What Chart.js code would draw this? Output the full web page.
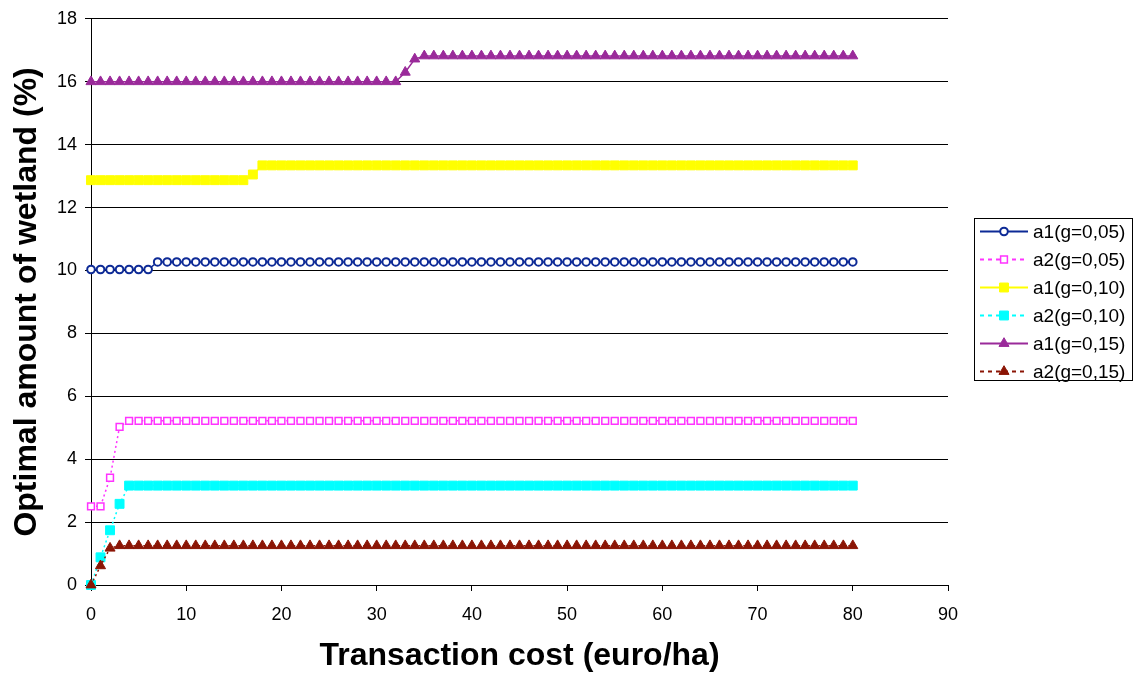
<!DOCTYPE html>
<html>
<head>
<meta charset="utf-8">
<title>Optimal amount of wetland</title>
<script src="https://cdn.jsdelivr.net/npm/chart.js"></script>
<style>
  html, body { margin: 0; padding: 0; background: #fff; }
  #chart { display: block; }
</style>
</head>
<body>
<canvas id="chart" width="1136" height="677"></canvas>
<script>
// transaction cost (euro/ha)
const costs = [
  0, 1, 2, 3, 4, 5, 6, 7, 8, 9,
  10, 11, 12, 13, 14, 15, 16, 17, 18, 19,
  20, 21, 22, 23, 24, 25, 26, 27, 28, 29,
  30, 31, 32, 33, 34, 35, 36, 37, 38, 39,
  40, 41, 42, 43, 44, 45, 46, 47, 48, 49,
  50, 51, 52, 53, 54, 55, 56, 57, 58, 59,
  60, 61, 62, 63, 64, 65, 66, 67, 68, 69,
  70, 71, 72, 73, 74, 75, 76, 77, 78, 79,
  80
];

const seriesNames = ['a1(g=0,05)', 'a2(g=0,05)', 'a1(g=0,10)', 'a2(g=0,10)', 'a1(g=0,15)', 'a2(g=0,15)'];

const a1_g005 = [
  10.03, 10.03, 10.03, 10.03, 10.03, 10.03, 10.03, 10.27, 10.27, 10.27,
  10.27, 10.27, 10.27, 10.27, 10.27, 10.27, 10.27, 10.27, 10.27, 10.27,
  10.27, 10.27, 10.27, 10.27, 10.27, 10.27, 10.27, 10.27, 10.27, 10.27,
  10.27, 10.27, 10.27, 10.27, 10.27, 10.27, 10.27, 10.27, 10.27, 10.27,
  10.27, 10.27, 10.27, 10.27, 10.27, 10.27, 10.27, 10.27, 10.27, 10.27,
  10.27, 10.27, 10.27, 10.27, 10.27, 10.27, 10.27, 10.27, 10.27, 10.27,
  10.27, 10.27, 10.27, 10.27, 10.27, 10.27, 10.27, 10.27, 10.27, 10.27,
  10.27, 10.27, 10.27, 10.27, 10.27, 10.27, 10.27, 10.27, 10.27, 10.27,
  10.27
];

const a2_g005 = [
  2.5, 2.5, 3.41, 5.03, 5.22, 5.22, 5.22, 5.22, 5.22, 5.22,
  5.22, 5.22, 5.22, 5.22, 5.22, 5.22, 5.22, 5.22, 5.22, 5.22,
  5.22, 5.22, 5.22, 5.22, 5.22, 5.22, 5.22, 5.22, 5.22, 5.22,
  5.22, 5.22, 5.22, 5.22, 5.22, 5.22, 5.22, 5.22, 5.22, 5.22,
  5.22, 5.22, 5.22, 5.22, 5.22, 5.22, 5.22, 5.22, 5.22, 5.22,
  5.22, 5.22, 5.22, 5.22, 5.22, 5.22, 5.22, 5.22, 5.22, 5.22,
  5.22, 5.22, 5.22, 5.22, 5.22, 5.22, 5.22, 5.22, 5.22, 5.22,
  5.22, 5.22, 5.22, 5.22, 5.22, 5.22, 5.22, 5.22, 5.22, 5.22,
  5.22
];

const a1_g010 = [
  12.87, 12.87, 12.87, 12.87, 12.87, 12.87, 12.87, 12.87, 12.87, 12.87,
  12.87, 12.87, 12.87, 12.87, 12.87, 12.87, 12.87, 13.05, 13.34, 13.34,
  13.34, 13.34, 13.34, 13.34, 13.34, 13.34, 13.34, 13.34, 13.34, 13.34,
  13.34, 13.34, 13.34, 13.34, 13.34, 13.34, 13.34, 13.34, 13.34, 13.34,
  13.34, 13.34, 13.34, 13.34, 13.34, 13.34, 13.34, 13.34, 13.34, 13.34,
  13.34, 13.34, 13.34, 13.34, 13.34, 13.34, 13.34, 13.34, 13.34, 13.34,
  13.34, 13.34, 13.34, 13.34, 13.34, 13.34, 13.34, 13.34, 13.34, 13.34,
  13.34, 13.34, 13.34, 13.34, 13.34, 13.34, 13.34, 13.34, 13.34, 13.34,
  13.34
];

const a2_g010 = [
  0, 0.88, 1.74, 2.58, 3.16, 3.16, 3.16, 3.16, 3.16, 3.16,
  3.16, 3.16, 3.16, 3.16, 3.16, 3.16, 3.16, 3.16, 3.16, 3.16,
  3.16, 3.16, 3.16, 3.16, 3.16, 3.16, 3.16, 3.16, 3.16, 3.16,
  3.16, 3.16, 3.16, 3.16, 3.16, 3.16, 3.16, 3.16, 3.16, 3.16,
  3.16, 3.16, 3.16, 3.16, 3.16, 3.16, 3.16, 3.16, 3.16, 3.16,
  3.16, 3.16, 3.16, 3.16, 3.16, 3.16, 3.16, 3.16, 3.16, 3.16,
  3.16, 3.16, 3.16, 3.16, 3.16, 3.16, 3.16, 3.16, 3.16, 3.16,
  3.16, 3.16, 3.16, 3.16, 3.16, 3.16, 3.16, 3.16, 3.16, 3.16,
  3.16
];

const a1_g015 = [
  16, 16, 16, 16, 16, 16, 16, 16, 16, 16,
  16, 16, 16, 16, 16, 16, 16, 16, 16, 16,
  16, 16, 16, 16, 16, 16, 16, 16, 16, 16,
  16, 16, 16, 16.3, 16.72, 16.82, 16.82, 16.82, 16.82, 16.82,
  16.82, 16.82, 16.82, 16.82, 16.82, 16.82, 16.82, 16.82, 16.82, 16.82,
  16.82, 16.82, 16.82, 16.82, 16.82, 16.82, 16.82, 16.82, 16.82, 16.82,
  16.82, 16.82, 16.82, 16.82, 16.82, 16.82, 16.82, 16.82, 16.82, 16.82,
  16.82, 16.82, 16.82, 16.82, 16.82, 16.82, 16.82, 16.82, 16.82, 16.82,
  16.82
];

const a2_g015 = [
  0, 0.61, 1.17, 1.25, 1.25, 1.25, 1.25, 1.25, 1.25, 1.25,
  1.25, 1.25, 1.25, 1.25, 1.25, 1.25, 1.25, 1.25, 1.25, 1.25,
  1.25, 1.25, 1.25, 1.25, 1.25, 1.25, 1.25, 1.25, 1.25, 1.25,
  1.25, 1.25, 1.25, 1.25, 1.25, 1.25, 1.25, 1.25, 1.25, 1.25,
  1.25, 1.25, 1.25, 1.25, 1.25, 1.25, 1.25, 1.25, 1.25, 1.25,
  1.25, 1.25, 1.25, 1.25, 1.25, 1.25, 1.25, 1.25, 1.25, 1.25,
  1.25, 1.25, 1.25, 1.25, 1.25, 1.25, 1.25, 1.25, 1.25, 1.25,
  1.25, 1.25, 1.25, 1.25, 1.25, 1.25, 1.25, 1.25, 1.25, 1.25,
  1.25
];

const xTicks = [0, 10, 20, 30, 40, 50, 60, 70, 80, 90];
const yTicks = [0, 2, 4, 6, 8, 10, 12, 14, 16, 18];

const FONT = '"Liberation Sans", Arial, Helvetica, sans-serif';
Chart.defaults.font.family = FONT;
Chart.defaults.color = '#000';

function pts(values) {
  return values.map((v, i) => ({ x: costs[i], y: v }));
}

function series(idx, values, color, style) {
  return Object.assign({
    label: seriesNames[idx],
    data: pts(values),
    borderColor: color,
    pointBorderColor: color,
    borderWidth: 1.5,
    pointBorderWidth: 1,
    pointHoverRadius: 0,
    tension: 0,
    fill: false,
    clip: false,
    order: 10 - idx
  }, style);
}

const datasets = [
  series(0, a1_g005, '#0d2a96', { pointStyle: 'circle', pointRadius: 3.8, pointBorderWidth: 2, pointBackgroundColor: '#fff' }),
  series(1, a2_g005, '#ff33ff', { pointStyle: 'rect', pointRadius: 4.8, pointBorderWidth: 1.5, pointBackgroundColor: '#fff', borderDash: [2, 3] }),
  series(2, a1_g010, '#ffff00', { pointStyle: 'rect', pointRadius: 6.3, pointBackgroundColor: '#ffff00' }),
  series(3, a2_g010, '#00ffff', { pointStyle: 'rect', pointRadius: 6.3, pointBackgroundColor: '#00ffff', borderDash: [2, 3] }),
  series(4, a1_g015, '#9a2a9a', { pointStyle: 'triangle', pointRadius: 5.8, pointBackgroundColor: '#9a2a9a' }),
  series(5, a2_g015, '#8b1505', { pointStyle: 'triangle', pointRadius: 5.8, pointBackgroundColor: '#8b1505', borderDash: [2, 3] })
];

function drawMarker(ctx, ds, x, y) {
  const r = ds.pointRadius;
  ctx.save();
  ctx.setLineDash([]);
  ctx.fillStyle = ds.pointBackgroundColor;
  ctx.strokeStyle = ds.pointBorderColor;
  ctx.lineWidth = ds.pointBorderWidth;
  ctx.beginPath();
  if (ds.pointStyle === 'circle') {
    ctx.arc(x, y, r, 0, Math.PI * 2);
  } else if (ds.pointStyle === 'rect') {
    const s = r * Math.SQRT1_2;
    ctx.rect(x - s, y - s, 2 * s, 2 * s);
  } else {
    ctx.moveTo(x, y - r);
    ctx.lineTo(x + r * Math.sin(Math.PI * 2 / 3), y - r * Math.cos(Math.PI * 2 / 3));
    ctx.lineTo(x + r * Math.sin(Math.PI * 4 / 3), y - r * Math.cos(Math.PI * 4 / 3));
    ctx.closePath();
  }
  ctx.fill();
  ctx.stroke();
  ctx.restore();
}

// boxed legend on the right, like the spreadsheet one
const boxLegend = {
  id: 'boxLegend',
  afterDraw(chart) {
    const ctx = chart.ctx;
    const left = 974.5, top = 218.5, w = 158, h = 162;
    ctx.save();
    ctx.strokeStyle = '#000';
    ctx.lineWidth = 1;
    ctx.strokeRect(left, top, w, h);
    ctx.font = '19px ' + FONT;
    ctx.textBaseline = 'middle';
    chart.data.datasets.forEach((ds, i) => {
      const y = 231.5 + i * 28;
      ctx.save();
      ctx.strokeStyle = ds.borderColor;
      ctx.lineWidth = 2;
      ctx.setLineDash(ds.borderDash ? [4, 4] : []);
      ctx.beginPath();
      ctx.moveTo(980, y);
      ctx.lineTo(1028, y);
      ctx.stroke();
      ctx.restore();
      drawMarker(ctx, ds, 1004, y);
      ctx.fillStyle = '#000';
      ctx.fillText(ds.label, 1033, y + 1);
    });
    ctx.restore();
  }
};

new Chart(document.getElementById('chart').getContext('2d'), {
  type: 'line',
  data: { datasets: datasets },
  options: {
    responsive: false,
    animation: false,
    devicePixelRatio: 1,
    layout: { padding: { left: 0, right: 188, top: 16, bottom: 2 } },
    plugins: {
      legend: { display: false },
      tooltip: { enabled: false }
    },
    scales: {
      x: {
        type: 'linear',
        min: 0,
        max: 90,
        afterBuildTicks: (scale) => { scale.ticks = xTicks.map(v => ({ value: v })); },
        afterFit: (scale) => { scale.height = 90; },
        ticks: { font: { size: 18 }, color: '#000', padding: 13, maxRotation: 0 },
        grid: { drawOnChartArea: false, drawTicks: true, tickLength: 6, color: '#000', lineWidth: 1 },
        border: { color: '#000', width: 1 },
        title: {
          display: true,
          text: 'Transaction cost (euro/ha)',
          color: '#000',
          font: { size: 32, weight: 'bold' },
          padding: { top: 0, bottom: 0 }
        }
      },
      y: {
        min: 0,
        max: 18,
        afterBuildTicks: (scale) => { scale.ticks = yTicks.map(v => ({ value: v })); },
        afterFit: (scale) => { scale.width = 91; },
        ticks: { font: { size: 18 }, color: '#000', padding: 8 },
        grid: { color: '#000', lineWidth: 1, tickLength: 6 },
        border: { color: '#000', width: 1 },
        title: {
          display: true,
          text: 'Optimal amount of wetland (%)',
          color: '#000',
          font: { size: 32, weight: 'bold' },
          padding: { top: 8, bottom: 0 }
        }
      }
    }
  },
  plugins: [boxLegend]
});
</script>
</body>
</html>
